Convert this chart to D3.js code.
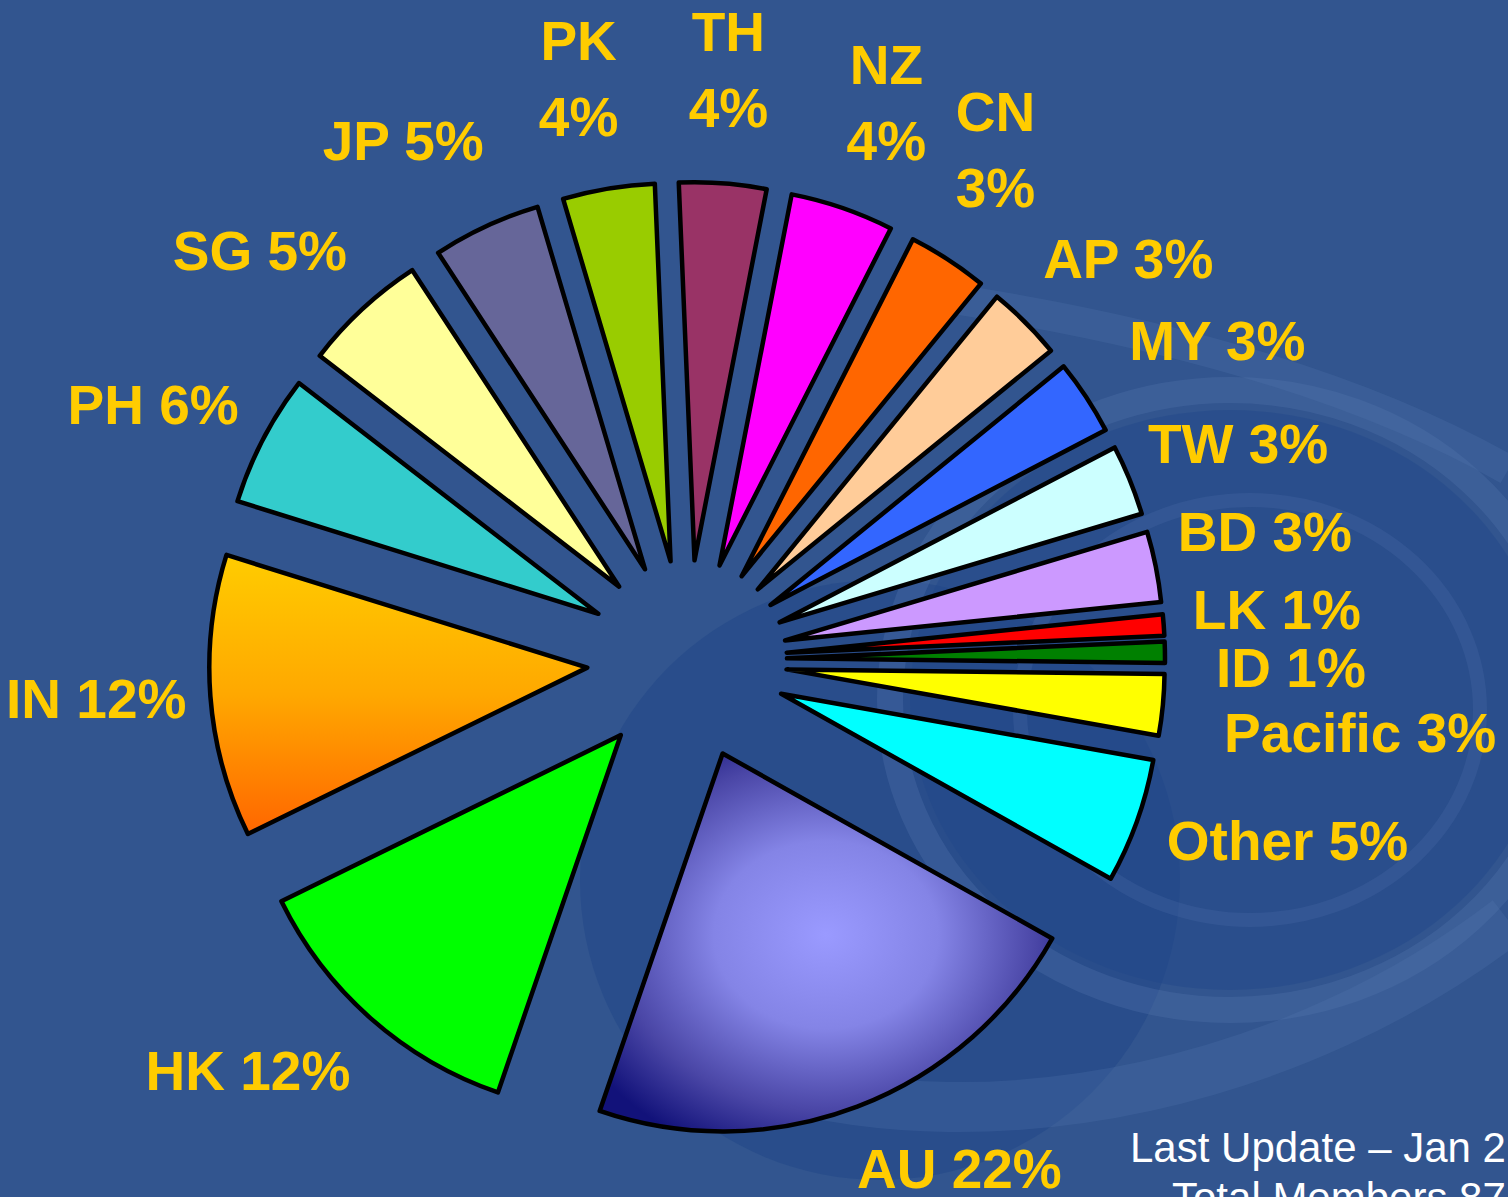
<!DOCTYPE html>
<meta charset="utf-8">
<style>
body { margin: 0; background: #32558f; }
svg { display: block; }
</style>
<svg></svg>
<script src="https://d3js.org/d3.v7.min.js"></script>
<script>
var width = 1508,
    height = 1197;

// regions in clockwise order, starting with AU
var regions = ["AU", "HK", "IN", "PH", "SG", "JP", "PK", "TH", "NZ", "CN",
               "AP", "MY", "TW", "BD", "LK", "ID", "Pacific", "Other"];
// share of members (%)
var shares = [22, 12.4, 12, 5.6, 5.3, 4.6, 3.9, 3.7, 4.4, 3.4,
              3.2, 3.2, 3.0, 3.0, 0.9, 0.9, 2.6, 5.3];
// percentages as printed on the chart
var pctLabels = ["22%", "12%", "12%", "6%", "5%", "5%", "4%", "4%", "4%", "3%",
                 "3%", "3%", "3%", "3%", "1%", "1%", "3%", "5%"];
var sliceColors = ["url(#auFill)", "#00ff00", "url(#inFill)", "#33cccc", "#ffff99",
                   "#666699", "#99cc00", "#993366", "#ff00ff", "#ff6600",
                   "#ffcc99", "#3366ff", "#ccffff", "#cc99ff", "#ff0000",
                   "#008000", "#ffff00", "#00ffff"];

var data = regions.map(function(r, i) {
  return { region: r, share: shares[i], pct: pctLabels[i] };
});

var cx = 687, cy = 660,
    radius = 378,
    explode = 100,
    labelRadius = 592,
    firstAngle = 119.3;

// labels that were dragged a bit in the original: [degrees, extra radius]
var labelNudge = {
  AU: [-7.3, -15], HK: [5.5, 9], IN: [0.7, 0], PH: [-1.9, 0], SG: [-3.4, 0],
  JP: [-3.8, 0], PK: [-1.1, 0], TH: [-0.3, 0], NZ: [0.7, 0], CN: [-2, 5],
  AP: [2.6, 5], MY: [2.3, 27], TW: [0.7, 0], BD: [-1.3, 0], LK: [-0.7, 0],
  ID: [1.6, 12], Pacific: [0.7, 85], Other: [-3, 35]
};
var stacked = ["PK", "TH", "NZ", "CN"];

var color = d3.scaleOrdinal().domain(regions).range(sliceColors);

var svg = d3.select("svg")
    .attr("width", width)
    .attr("height", height)
    .style("font-family", "'Liberation Sans', Arial, sans-serif");

var defs = svg.append("defs");

var au = defs.append("radialGradient")
    .attr("id", "auFill")
    .attr("cx", 0.5).attr("cy", 0.48).attr("r", 0.62);
au.append("stop").attr("offset", 0).attr("stop-color", "#9a9aff");
au.append("stop").attr("offset", 0.4).attr("stop-color", "#8484e6");
au.append("stop").attr("offset", 0.75).attr("stop-color", "#4a46a6");
au.append("stop").attr("offset", 1).attr("stop-color", "#12127a");

var inf = defs.append("linearGradient")
    .attr("id", "inFill")
    .attr("x1", 0).attr("y1", 0).attr("x2", 0).attr("y2", 1);
inf.append("stop").attr("offset", 0).attr("stop-color", "#ffcc00");
inf.append("stop").attr("offset", 0.5).attr("stop-color", "#ffa800");
inf.append("stop").attr("offset", 1).attr("stop-color", "#ff6600");

// background swirl
svg.append("rect")
    .attr("width", width)
    .attr("height", height)
    .attr("fill", "#32558f");

var bg = svg.append("g");
bg.append("ellipse")
    .attr("cx", 880).attr("cy", 880).attr("rx", 300).attr("ry", 300)
    .attr("fill", "#1f4688").attr("opacity", 0.5);
bg.append("ellipse")
    .attr("cx", 1230).attr("cy", 700).attr("rx", 320).attr("ry", 290)
    .attr("fill", "#22488a").attr("opacity", 0.45);
bg.append("ellipse")
    .attr("cx", 1230).attr("cy", 700).attr("rx", 340).attr("ry", 310)
    .attr("fill", "none").attr("stroke", "#5577b0").attr("stroke-width", 26).attr("opacity", 0.3);
bg.append("ellipse")
    .attr("cx", 1250).attr("cy", 710).attr("rx", 230).attr("ry", 210)
    .attr("fill", "none").attr("stroke", "#4f71aa").attr("stroke-width", 14).attr("opacity", 0.25);
bg.append("path")
    .attr("d", "M760,1080 C1000,1150 1300,1080 1508,920")
    .attr("fill", "none").attr("stroke", "#5577b0").attr("stroke-width", 50).attr("opacity", 0.25);
bg.append("path")
    .attr("d", "M960,300 C1150,330 1350,380 1508,470")
    .attr("fill", "none").attr("stroke", "#5577b0").attr("stroke-width", 30).attr("opacity", 0.25);

var pie = d3.pie()
    .sort(null)
    .value(function(d) { return d.share; })
    .startAngle(firstAngle * Math.PI / 180)
    .endAngle(firstAngle * Math.PI / 180 + 2 * Math.PI);

var arc = d3.arc()
    .innerRadius(0)
    .outerRadius(radius);

var arcs = pie(data);

function mid(d) { return (d.startAngle + d.endAngle) / 2; }

svg.append("g")
  .selectAll("path")
  .data(arcs)
  .enter().append("path")
    .attr("transform", function(d) {
      var a = mid(d);
      return "translate(" + (cx + explode * Math.sin(a)) + "," + (cy - explode * Math.cos(a)) + ")";
    })
    .attr("d", arc)
    .attr("fill", function(d) { return color(d.data.region); })
    .attr("stroke", "#000")
    .attr("stroke-width", 4.5)
    .attr("stroke-linejoin", "round");

var fontSize = 55,
    capHalf = fontSize * 0.358,
    lineGap = 76;

svg.append("g")
    .attr("fill", "#ffcc00")
    .attr("font-weight", "bold")
    .attr("font-size", fontSize)
    .attr("text-anchor", "middle")
  .selectAll("text")
  .data(arcs)
  .enter().append("text")
    .each(function(d) {
      var n = labelNudge[d.data.region] || [0, 0],
          a = mid(d) + n[0] * Math.PI / 180,
          r = labelRadius + n[1],
          x = cx + r * Math.sin(a),
          y = cy - r * Math.cos(a),
          t = d3.select(this);
      if (stacked.indexOf(d.data.region) >= 0) {
        t.append("tspan").attr("x", x).attr("y", y - lineGap / 2 + capHalf).text(d.data.region);
        t.append("tspan").attr("x", x).attr("y", y + lineGap / 2 + capHalf).text(d.data.pct);
      } else {
        t.attr("x", x).attr("y", y + capHalf).text(d.data.region + " " + d.data.pct);
      }
    });

var foot = svg.append("g")
    .attr("fill", "#fff")
    .attr("font-size", 42);
foot.append("text").attr("x", 1130).attr("y", 1162).text("Last Update – Jan 2");
foot.append("text").attr("x", 1172).attr("y", 1212).text("Total Members 87");
</script>
